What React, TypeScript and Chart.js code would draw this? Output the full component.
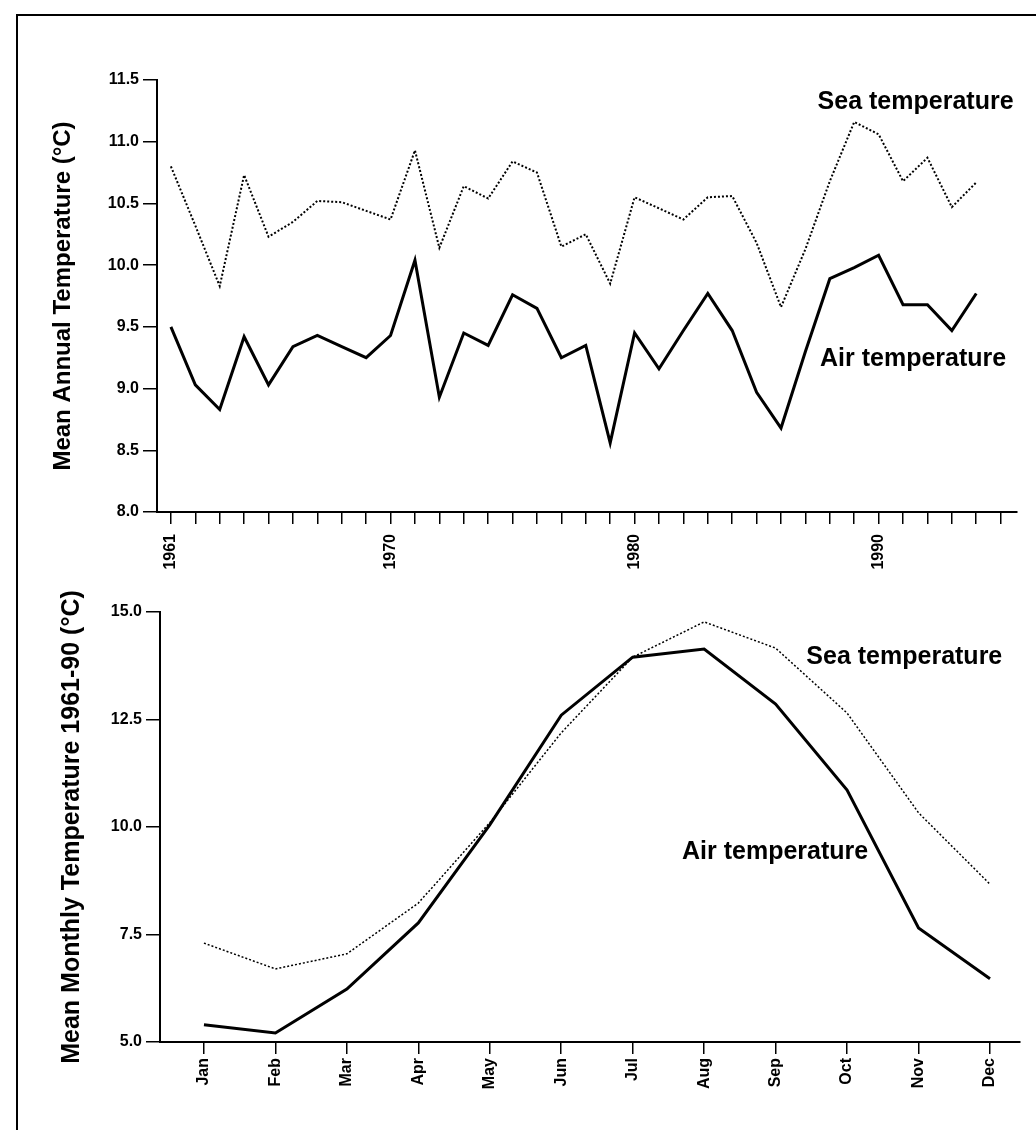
import React, { useEffect, useRef } from 'react';
import { Chart, registerables } from 'chart.js';

Chart.register(...registerables);

const FONT = '"Liberation Sans", Arial, Helvetica, sans-serif';

// ---------- Top panel: annual means ----------
const years = [
  1961, 1962, 1963, 1964, 1965, 1966, 1967, 1968, 1969, 1970,
  1971, 1972, 1973, 1974, 1975, 1976, 1977, 1978, 1979, 1980,
  1981, 1982, 1983, 1984, 1985, 1986, 1987, 1988, 1989, 1990,
  1991, 1992, 1993, 1994,
];
const seaAnnual = [
  10.80, 10.32, 9.83, 10.73, 10.23, 10.35, 10.52, 10.51, 10.44, 10.37,
  10.93, 10.14, 10.64, 10.54, 10.84, 10.75, 10.15, 10.25, 9.85, 10.55,
  10.46, 10.37, 10.55, 10.56, 10.18, 9.66, 10.13, 10.68, 11.16, 11.06,
  10.68, 10.87, 10.47, 10.67,
];
const airAnnual = [
  9.50, 9.03, 8.83, 9.42, 9.03, 9.34, 9.43, 9.34, 9.25, 9.43,
  10.04, 8.93, 9.45, 9.35, 9.76, 9.65, 9.25, 9.35, 8.56, 9.45,
  9.16, 9.47, 9.77, 9.47, 8.97, 8.68, 9.30, 9.89, 9.98, 10.08,
  9.68, 9.68, 9.47, 9.77,
];
const yearTickStart = 1961;
const yearTickEnd = 1995;
const yearTickLabels = [1961, 1970, 1980, 1990];

// ---------- Bottom panel: monthly means 1961-90 ----------
const months = ['Jan', 'Feb', 'Mar', 'Apr', 'May', 'Jun', 'Jul', 'Aug', 'Sep', 'Oct', 'Nov', 'Dec'];
const seaMonthly = [7.30, 6.70, 7.05, 8.23, 10.10, 12.19, 13.95, 14.77, 14.16, 12.65, 10.33, 8.67];
const airMonthly = [5.40, 5.21, 6.23, 7.77, 10.05, 12.60, 13.95, 14.14, 12.86, 10.86, 7.65, 6.47];

type Note = { text: string; x: number; y: number };

const annotPlugin = (id: string, notes: Note[]) => ({
  id,
  afterDatasetsDraw(chart: any) {
    const { ctx, scales } = chart;
    ctx.save();
    ctx.font = `bold 25px ${FONT}`;
    ctx.fillStyle = '#000';
    ctx.textAlign = 'left';
    ctx.textBaseline = 'middle';
    notes.forEach((n) => {
      ctx.fillText(n.text, scales.x.getPixelForValue(n.x), scales.y.getPixelForValue(n.y));
    });
    ctx.restore();
  },
});

const tickFont = { family: FONT, size: 16, weight: 'bold' as const };
const gridStyle = (len: number) => ({
  drawOnChartArea: false,
  drawTicks: true,
  tickLength: len,
  color: '#000',
  lineWidth: 1.5,
});
const borderStyle = { display: true, color: '#000', width: 2 };

export default function App() {
  const topRef = useRef<HTMLCanvasElement>(null);
  const botRef = useRef<HTMLCanvasElement>(null);

  useEffect(() => {
    const tickYears: number[] = [];
    for (let y = yearTickStart; y <= yearTickEnd; y++) tickYears.push(y);

    const top = new Chart(topRef.current as HTMLCanvasElement, {
      type: 'line',
      data: {
        datasets: [
          {
            label: 'Sea temperature',
            data: years.map((yr, i) => ({ x: yr, y: seaAnnual[i] })),
            borderColor: '#000',
            borderWidth: 2,
            borderDash: [2, 2],
            pointRadius: 0,
            tension: 0,
            fill: false,
          },
          {
            label: 'Air temperature',
            data: years.map((yr, i) => ({ x: yr, y: airAnnual[i] })),
            borderColor: '#000',
            borderWidth: 3,
            pointRadius: 0,
            tension: 0,
            fill: false,
          },
        ],
      },
      options: {
        responsive: false,
        animation: false,
        layout: { padding: { top: 80, right: 19, left: 0, bottom: 0 } },
        plugins: { legend: { display: false }, tooltip: { enabled: false } },
        scales: {
          x: {
            type: 'linear',
            min: 1960.43,
            max: 1995.67,
            afterBuildTicks: (s: any) => {
              s.ticks = tickYears.map((v) => ({ value: v }));
            },
            afterFit: (s: any) => {
              s.height = 68;
            },
            grid: gridStyle(12),
            border: borderStyle,
            ticks: {
              autoSkip: false,
              minRotation: 90,
              maxRotation: 90,
              padding: 10,
              color: '#000',
              font: tickFont,
              callback: (v: any) => (yearTickLabels.includes(Number(v)) ? String(v) : ''),
            },
          },
          y: {
            type: 'linear',
            min: 8,
            max: 11.5,
            afterFit: (s: any) => {
              s.width = 157;
            },
            grid: gridStyle(14),
            border: borderStyle,
            ticks: {
              stepSize: 0.5,
              padding: 4,
              color: '#000',
              font: tickFont,
              callback: (v: any) => Number(v).toFixed(1),
            },
            title: {
              display: true,
              text: 'Mean Annual Temperature (°C)',
              color: '#000',
              font: { family: FONT, size: 24, weight: 'bold' },
              padding: { top: 49, bottom: 0 },
            },
          },
        },
      },
      plugins: [
        annotPlugin('topNotes', [
          { text: 'Sea temperature', x: 1987.5, y: 11.32 },
          { text: 'Air temperature', x: 1987.6, y: 9.24 },
        ]),
      ],
    } as any);

    const bot = new Chart(botRef.current as HTMLCanvasElement, {
      type: 'line',
      data: {
        datasets: [
          {
            label: 'Sea temperature',
            data: months.map((_, i) => ({ x: i + 1, y: seaMonthly[i] })),
            borderColor: '#000',
            borderWidth: 1.5,
            borderDash: [2, 2],
            pointRadius: 0,
            tension: 0,
            fill: false,
          },
          {
            label: 'Air temperature',
            data: months.map((_, i) => ({ x: i + 1, y: airMonthly[i] })),
            borderColor: '#000',
            borderWidth: 3,
            pointRadius: 0,
            tension: 0,
            fill: false,
          },
        ],
      },
      options: {
        responsive: false,
        animation: false,
        layout: { padding: { top: 47, right: 16, left: 0, bottom: 0 } },
        plugins: { legend: { display: false }, tooltip: { enabled: false } },
        scales: {
          x: {
            type: 'linear',
            min: 0.385,
            max: 12.42,
            afterBuildTicks: (s: any) => {
              s.ticks = months.map((_, i) => ({ value: i + 1 }));
            },
            afterFit: (s: any) => {
              s.height = 88;
            },
            grid: gridStyle(12),
            border: borderStyle,
            ticks: {
              autoSkip: false,
              minRotation: 90,
              maxRotation: 90,
              padding: 4,
              color: '#000',
              font: tickFont,
              callback: (v: any) => months[Math.round(Number(v)) - 1] ?? '',
            },
          },
          y: {
            type: 'linear',
            min: 5,
            max: 15,
            afterFit: (s: any) => {
              s.width = 160;
            },
            grid: gridStyle(14),
            border: borderStyle,
            ticks: {
              stepSize: 2.5,
              padding: 4,
              color: '#000',
              font: tickFont,
              callback: (v: any) => Number(v).toFixed(1),
            },
            title: {
              display: true,
              text: 'Mean Monthly Temperature 1961-90 (°C)',
              color: '#000',
              font: { family: FONT, size: 25, weight: 'bold' },
              padding: { top: 57, bottom: 0 },
            },
          },
        },
      },
      plugins: [
        annotPlugin('botNotes', [
          { text: 'Sea temperature', x: 9.43, y: 13.95 },
          { text: 'Air temperature', x: 7.69, y: 9.42 },
        ]),
      ],
    } as any);

    return () => {
      top.destroy();
      bot.destroy();
    };
  }, []);

  return (
    <div
      style={{
        position: 'absolute',
        left: 0,
        top: 0,
        width: 1036,
        height: 1130,
        background: '#fff',
        overflow: 'hidden',
      }}
    >
      <div style={{ position: 'absolute', left: 16, top: 14, width: 2, height: 1116, background: '#000' }} />
      <div style={{ position: 'absolute', left: 16, top: 14, width: 1020, height: 2, background: '#000' }} />
      <canvas
        ref={botRef}
        width={1036}
        height={565}
        style={{ position: 'absolute', left: 0, top: 565, width: 1036, height: 565 }}
      />
      <canvas
        ref={topRef}
        width={1036}
        height={580}
        style={{ position: 'absolute', left: 0, top: 0, width: 1036, height: 580 }}
      />
    </div>
  );
}
